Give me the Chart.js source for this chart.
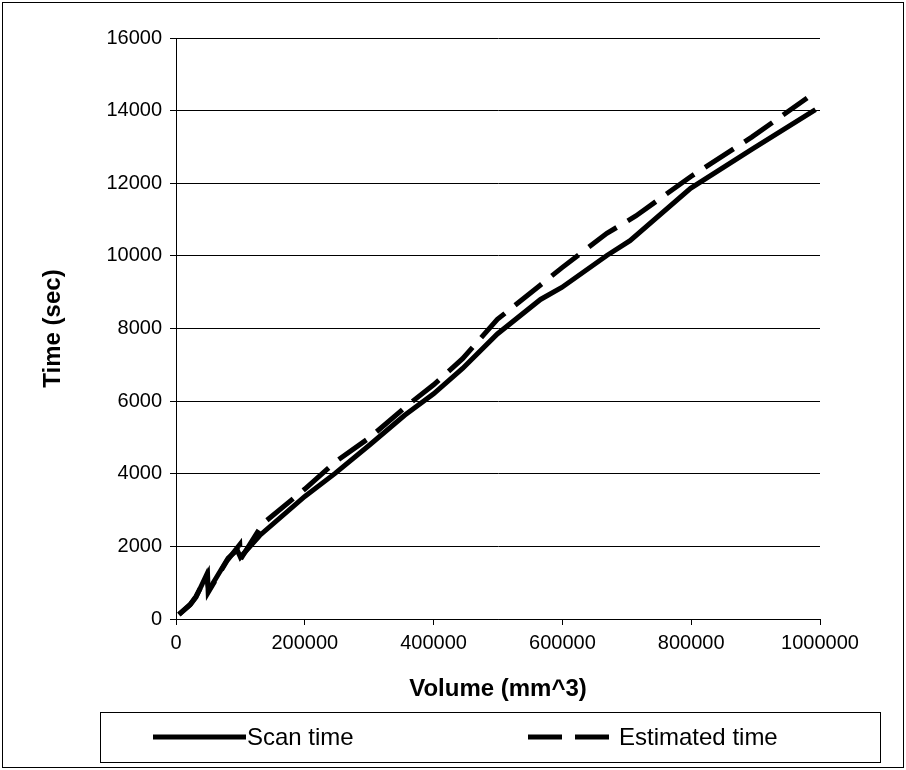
<!DOCTYPE html>
<html>
<head>
<meta charset="utf-8">
<script src="https://cdn.jsdelivr.net/npm/chart.js@4/dist/chart.umd.min.js"></script>
<style>
  body { margin: 0; background: #fff; }
  canvas { display: block; }
</style>
</head>
<body>
<canvas id="timeChart" width="906" height="770"></canvas>
<script>
// values
const scanVolume = [4500, 22000, 31000, 47000, 51000, 81000, 95000, 100000, 130000, 200000, 247000, 301000, 355000, 400000, 445000, 499000, 566000, 599000, 669000, 705000, 799000, 894000, 993000];
const scanTime   = [122, 390, 600, 1200, 800, 1680, 1900, 1700, 2300, 3375, 4010, 4800, 5610, 6200, 6900, 7850, 8800, 9130, 10010, 10420, 11860, 12930, 14030];

const estVolume = [4500, 22000, 31000, 49000, 50000, 79000, 99000, 100000, 135000, 200000, 247000, 301000, 364000, 400000, 445000, 499000, 566000, 599000, 669000, 714000, 799000, 894000, 980000];
const estTime   = [130, 400, 620, 1230, 730, 1600, 2050, 1640, 2630, 3580, 4320, 5000, 5950, 6450, 7170, 8250, 9200, 9670, 10620, 11100, 12180, 13270, 14350];

const seriesNames = ['Scan time', 'Estimated time'];
const xTitle = 'Volume (mm^3)';
const yTitle = 'Time (sec)';

Chart.defaults.font.family = "'Liberation Sans', Arial, sans-serif";
Chart.defaults.color = '#000';

const toPoints = (xs, ys) => xs.map((x, i) => ({ x: x, y: ys[i] }));

// outer frame + boxed legend under the plot
const framePlugin = {
    id: 'frame',
    afterDraw(chart) {
        const ctx = chart.ctx;
        ctx.save();
        ctx.strokeStyle = '#000';
        ctx.lineWidth = 1;
        ctx.strokeRect(2.5, 2.5, 901, 765);

        // legend box
        ctx.strokeRect(100.5, 712.5, 780, 50);
        const y = 737;
        const items = [
            { x0: 153, x1: 246, tx: 247 },
            { x0: 528, x1: 618, tx: 619 }
        ];
        ctx.font = "24px 'Liberation Sans', Arial, sans-serif";
        ctx.textBaseline = 'middle';
        ctx.fillStyle = '#000';
        chart.data.datasets.forEach((ds, i) => {
            const it = items[i];
            ctx.beginPath();
            ctx.lineWidth = ds.borderWidth;
            ctx.setLineDash(ds.borderDash || []);
            ctx.lineDashOffset = 0;
            ctx.moveTo(it.x0, y);
            ctx.lineTo(it.x1, y);
            ctx.stroke();
            ctx.setLineDash([]);
            ctx.fillText(ds.label, it.tx, y + 1);
        });
        ctx.restore();
    }
};

new Chart(document.getElementById('timeChart'), {
    type: 'line',
    data: {
        datasets: [{
            label: seriesNames[0],
            data: toPoints(scanVolume, scanTime),
            borderColor: '#000',
            borderWidth: 5,
            pointRadius: 0,
            tension: 0,
            fill: false
        }, {
            label: seriesNames[1],
            data: toPoints(estVolume, estTime),
            borderColor: '#000',
            borderWidth: 5,
            borderDash: [34, 13],
            pointRadius: 0,
            tension: 0,
            fill: false
        }]
    },
    options: {
        responsive: false,
        animation: false,
        layout: { padding: { left: 0, top: 38, right: 86, bottom: 65 } },
        plugins: {
            legend: { display: false },
            tooltip: { enabled: false }
        },
        scales: {
            x: {
                type: 'linear',
                min: 0,
                max: 1000000,
                ticks: {
                    stepSize: 200000,
                    callback: v => String(v),
                    font: { size: 20 },
                    color: '#000',
                    padding: 6,
                    maxRotation: 0
                },
                grid: { drawOnChartArea: false, color: '#000', tickLength: 6 },
                border: { color: '#000' },
                title: {
                    display: true,
                    text: xTitle,
                    font: { size: 24, weight: 'bold' },
                    color: '#000',
                    padding: { top: 0, bottom: 1 }
                },
                afterFit: s => { s.height = 86; }
            },
            y: {
                min: 0,
                max: 16000,
                ticks: {
                    stepSize: 2000,
                    callback: v => String(v),
                    font: { size: 20 },
                    color: '#000',
                    padding: 8
                },
                grid: { color: '#000', tickLength: 6 },
                border: { color: '#000' },
                title: {
                    display: true,
                    text: yTitle,
                    font: { size: 24, weight: 'bold' },
                    color: '#000',
                    padding: { top: 39, bottom: 0 }
                },
                afterFit: s => { s.width = 176; }
            }
        }
    },
    plugins: [framePlugin]
});
</script>
</body>
</html>
